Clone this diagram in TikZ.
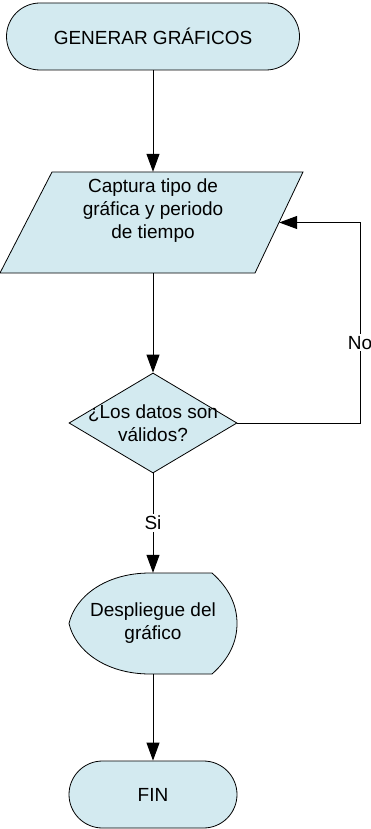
\documentclass[tikz,border=0pt]{standalone}
\usepackage{fontspec}
\setmainfont{Liberation Sans}
\usetikzlibrary{shapes.geometric,arrows.meta}
\definecolor{shapefill}{RGB}{211,234,240}
\begin{document}
\begin{tikzpicture}[x=1pt,y=-1pt,
  txt/.style={font=\fontsize{19pt}{23pt}\selectfont, align=center, inner sep=0pt},
  shp/.style={draw=black, line width=0.8pt, fill=shapefill},
  term/.style={shp, rectangle, rounded corners=33.5pt, minimum height=67pt, inner sep=0pt},
  conn/.style={draw=black, line width=1pt, -{Triangle[length=18pt,width=13pt]}},
  lbl/.style={txt, fill=white, inner sep=2pt},
  anchorbox/.style={rectangle, inner sep=0pt}]
\useasboundingbox (0,0) rectangle (370,829);
% start terminal
\node[term, txt, minimum width=293pt] (start) at (153,36.5) {GENERAR GRÁFICOS};
% input parallelogram
\draw[shp] (52,172) -- (303,172) -- (255,273) -- (0,273) -- cycle;
\node[anchorbox, minimum width=252pt, minimum height=101pt] (cap) at (153,222.5) {};
\node[txt] (capt) at (153,211) {Captura tipo de\\gráfica y periodo\\de tiempo};
% decision
\node[shp, diamond, minimum width=168pt, minimum height=100pt, inner sep=0pt] (dec) at (153,423) {};
\node[txt] (dect) at (153,423) {¿Los datos son\\válidos?};
% display
\draw[shp] (150,573) -- (212,573) .. controls (229,588) and (237,605) .. (237,623.5)
  .. controls (237,642) and (229,659) .. (212,674) -- (150,674)
  .. controls (105,674) and (75,650) .. (69,623.5)
  .. controls (75,597) and (105,573) .. (150,573) -- cycle;
\node[anchorbox, minimum width=168pt, minimum height=101pt] (disp) at (153,623.5) {};
\node[txt] (dispt) at (153,623.5) {Despliegue del\\gráfico};
% end terminal
\node[term, txt, minimum width=168pt] (fin) at (153,794.5) {FIN};
% loop corners
\coordinate (c1) at (360,423);
\coordinate (c2) at (360,222.5);
% connectors
\draw[conn] (start.south) -- (cap.north);
\draw[conn] (cap.south) -- (dec.north);
\draw[conn] (dec.east) -- (c1) -- node[lbl, pos=0.4] (no) {No} (c2) -- (cap.east);
\draw[conn] (dec.south) -- node[lbl, pos=0.5] (si) {Si} (disp.north);
\draw[conn] (disp.south) -- (fin.north);
\end{tikzpicture}
\end{document}
